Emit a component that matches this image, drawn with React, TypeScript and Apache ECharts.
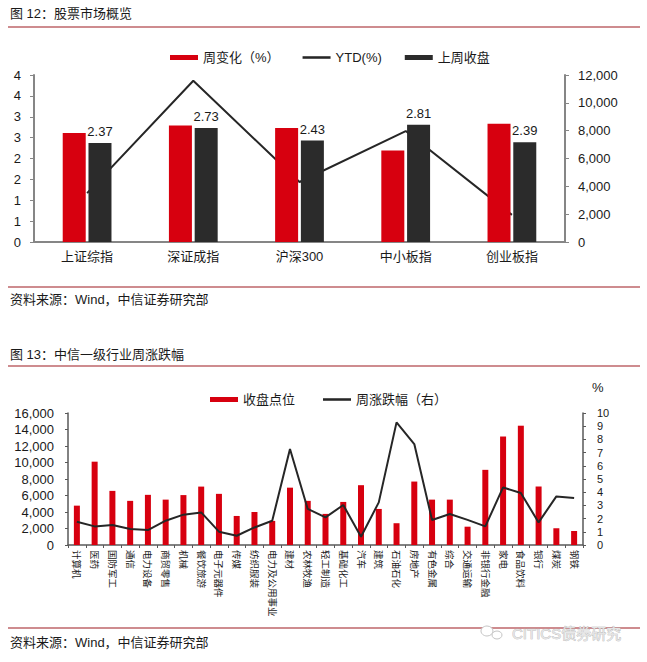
import React, { useEffect, useRef } from 'react';
import * as echarts from 'echarts';

const FONT = "'Liberation Sans', 'Noto Sans CJK SC', sans-serif";

// Chart 1 (图 12)
const c1Categories = ['上证综指', '深证成指', '沪深300', '中小板指', '创业板指'];
const c1WeekChange = [2.61, 2.79, 2.73, 2.19, 2.83];
const c1LastClose = [2.37, 2.73, 2.43, 2.81, 2.39];
const c1YTD = [3510, 11590, 4310, 7970, 1950];

// Chart 2 (图 13)
const c2Categories = [
  '计算机', '医药', '国防军工', '通信', '电力设备', '商贸零售', '机械', '餐饮旅游', '电子元器件', '传媒',
  '纺织服装', '电力及公用事业', '建材', '农林牧渔', '轻工制造', '基础化工', '汽车', '建筑', '石油石化', '房地产',
  '有色金属', '综合', '交通运输', '非银行金融', '家电', '食品饮料', '银行', '煤炭', '钢铁',
];
const c2Close = [
  4770, 10100, 6560, 5350, 6080, 5500, 6050, 7080, 6200, 3520,
  4000, 2920, 6950, 5350, 3770, 5220, 7250, 4370, 2640, 7690,
  5500, 5500, 2220, 9110, 13150, 14460, 7090, 2030, 1700,
];
const c2Pct = [
  1.76, 1.41, 1.51, 1.21, 1.13, 1.84, 2.30, 2.47, 1.01, 0.70,
  1.33, 1.84, 7.27, 2.73, 2.09, 3.03, 0.63, 3.23, 9.29, 7.65,
  1.89, 2.35, 1.90, 1.41, 4.36, 3.94, 1.71, 3.68, 3.56,
];

const RED = '#D7000F';
const DARK = '#2B2B2B';
const RULE = '#9E1B20';
const AX1 = '#868686';
const AX2 = '#595959';
const TXT = '#1a1a1a';

const fmtThousands = (v: number) => v.toLocaleString('en-US');

function hline(y: number) {
  return { type: 'line', shape: { x1: 8, y1: y, x2: 640, y2: y }, style: { stroke: RULE, lineWidth: 1.2 } };
}
function txt(x: number, y: number, text: string, size = 13, fill = TXT) {
  return { type: 'text', x, y, style: { text, fontSize: size, fill, fontFamily: FONT, verticalAlign: 'middle' } };
}

export default function App() {
  const ref = useRef<HTMLDivElement>(null);
  useEffect(() => {
    const chart = echarts.init(ref.current!, null, { renderer: 'svg' });
    const lineIcon = 'path://M0,0H22V2H0Z';
    const option: any = {
      animation: false,
      backgroundColor: '#fff',
      textStyle: { fontFamily: FONT },
      grid: [
        { left: 34, top: 75, width: 531, height: 167 },
        { left: 68, top: 413, width: 515, height: 132 },
      ],
      legend: [
        {
          data: [
            { name: '周变化（%）', icon: 'rect' },
            { name: 'YTD(%)', icon: lineIcon },
            { name: '上周收盘', icon: 'rect' },
          ],
          left: 165, top: 46, itemWidth: 28, itemHeight: 5, itemGap: 23,
          textStyle: { fontSize: 13, color: TXT, fontFamily: FONT },
        },
        {
          data: [
            { name: '收盘点位', icon: 'rect' },
            { name: '周涨跌幅（右）', icon: lineIcon },
          ],
          left: 205, top: 388, itemWidth: 28, itemHeight: 5, itemGap: 28,
          textStyle: { fontSize: 13, color: TXT, fontFamily: FONT },
        },
      ],
      xAxis: [
        {
          type: 'category', gridIndex: 0, data: c1Categories,
          axisLine: { lineStyle: { color: AX1, width: 2 } },
          axisTick: { show: false },
          axisLabel: { fontSize: 13, color: TXT, margin: 8, interval: 0 },
        },
        {
          type: 'category', gridIndex: 1, data: c2Categories,
          axisLine: { lineStyle: { color: AX2, width: 1.5 } },
          axisTick: { show: true, length: 3, lineStyle: { color: AX2 } },
          axisLabel: { rotate: -90, fontSize: 9.5, margin: 5, interval: 0, color: TXT },
        },
      ],
      yAxis: [
        {
          type: 'value', gridIndex: 0, min: 0, max: 4, interval: 0.5,
          axisLine: { show: true, lineStyle: { color: AX1, width: 2 } },
          axisTick: { show: true, length: 4, lineStyle: { color: AX1 } },
          splitLine: { show: false },
          axisLabel: { formatter: (v: number) => String(Math.round(v)), fontSize: 13, color: TXT, margin: 13 },
        },
        {
          type: 'value', gridIndex: 0, position: 'right', min: 0, max: 12000, interval: 2000,
          axisLine: { show: true, lineStyle: { color: AX1, width: 2 } },
          axisTick: { show: true, length: 4, lineStyle: { color: AX1 } },
          splitLine: { show: false },
          axisLabel: { formatter: fmtThousands, fontSize: 13, color: TXT, margin: 13 },
        },
        {
          type: 'value', gridIndex: 1, min: 0, max: 16000, interval: 2000,
          axisLine: { show: true, lineStyle: { color: AX2, width: 1.5 } },
          axisTick: { show: true, length: 3, lineStyle: { color: AX2 } },
          splitLine: { show: false },
          axisLabel: { formatter: fmtThousands, fontSize: 13, color: TXT, margin: 14 },
        },
        {
          type: 'value', gridIndex: 1, position: 'right', min: 0, max: 10, interval: 1,
          axisLine: { show: true, lineStyle: { color: AX2, width: 1.5 } },
          axisTick: { show: true, length: 3, lineStyle: { color: AX2 } },
          splitLine: { show: false },
          axisLabel: { fontSize: 11, lineHeight: 11, color: TXT, margin: 14 },
        },
      ],
      series: [
        {
          name: '周变化（%）', type: 'bar', xAxisIndex: 0, yAxisIndex: 0,
          data: c1WeekChange, barWidth: 23, barGap: '12%', itemStyle: { color: RED }, z: 2,
        },
        {
          name: 'YTD(%)', type: 'line', xAxisIndex: 0, yAxisIndex: 1, data: c1YTD,
          symbol: 'none', lineStyle: { color: '#262626', width: 2 }, itemStyle: { color: '#262626' }, z: 1,
        },
        {
          name: '上周收盘', type: 'bar', xAxisIndex: 0, yAxisIndex: 0,
          data: c1LastClose, barWidth: 23, barGap: '12%', itemStyle: { color: DARK }, z: 2,
          label: { show: true, position: 'top', distance: 5, fontSize: 13, color: TXT, formatter: (p: any) => p.value.toFixed(2) },
        },
        {
          name: '收盘点位', type: 'bar', xAxisIndex: 1, yAxisIndex: 2,
          data: c2Close, barWidth: 6, itemStyle: { color: RED }, z: 2,
        },
        {
          name: '周涨跌幅（右）', type: 'line', xAxisIndex: 1, yAxisIndex: 3, data: c2Pct,
          symbol: 'none', lineStyle: { color: '#262626', width: 2 }, itemStyle: { color: '#262626' }, z: 3,
        },
      ],
      graphic: [
        txt(10, 13, '图 12：股票市场概览'),
        hline(27),
        hline(287),
        txt(10, 299, '资料来源：Wind，中信证券研究部'),
        txt(10, 354, '图 13：中信一级行业周涨跌幅'),
        hline(366),
        txt(592, 387, '%', 13),
        hline(628),
        txt(10, 642, '资料来源：Wind，中信证券研究部'),
        { type: 'ellipse', shape: { cx: 487, cy: 631, rx: 6, ry: 5 }, style: { fill: '#fff', stroke: '#c4c4c4', lineWidth: 1 } },
        { type: 'ellipse', shape: { cx: 497, cy: 635, rx: 5, ry: 4 }, style: { fill: '#fff', stroke: '#c4c4c4', lineWidth: 1 } },
        {
          type: 'text', x: 512, y: 633,
          style: { text: 'CITICS债券研究', fontSize: 15, fill: '#e4e4e4', stroke: '#b0b0b0', lineWidth: 0.6, fontFamily: FONT, verticalAlign: 'middle' },
        },
      ],
    };
    chart.setOption(option);
    return () => chart.dispose();
  }, []);
  return <div ref={ref} style={{ position: 'absolute', left: 0, top: 0, width: 647, height: 662, background: '#fff' }} />;
}
